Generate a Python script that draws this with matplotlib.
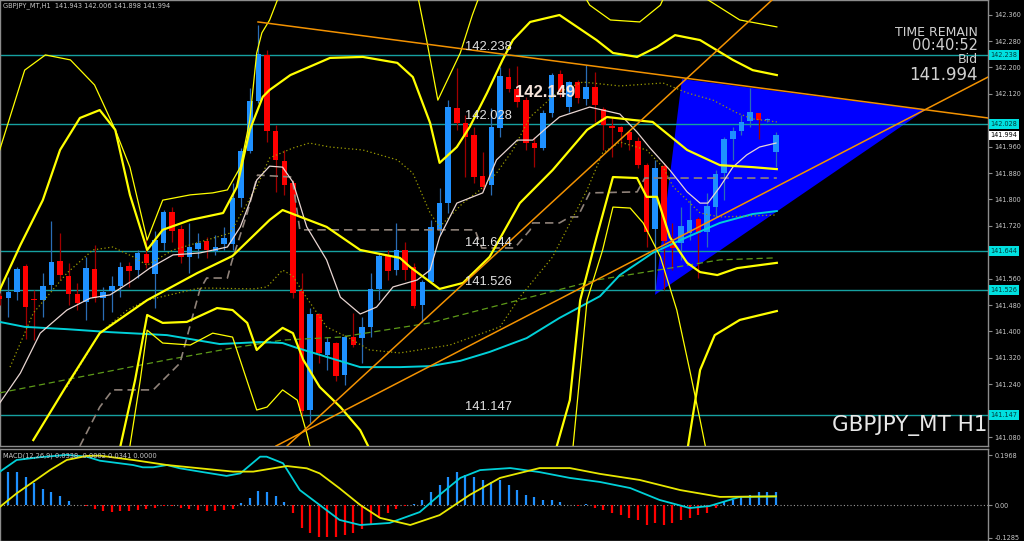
import matplotlib
matplotlib.use("Agg")
import matplotlib.pyplot as plt
import matplotlib.transforms as mtransforms
from matplotlib.patches import Polygon
import numpy as np

# ---------------- candles (GBPJPY_MT, H1) ----------------
opens = [141.507, 141.501, 141.520, 141.598, 141.498, 141.495, 141.541, 141.614, 141.568, 141.514,
         141.489, 141.589, 141.501, 141.523, 141.538, 141.598, 141.586, 141.635, 141.574, 141.668,
         141.762, 141.711, 141.626, 141.650, 141.674, 141.644, 141.665, 141.665, 141.804, 141.947,
         142.098, 142.238, 142.008, 141.917, 141.850, 141.523, 141.162, 141.453, 141.329, 141.365,
         141.268, 141.383, 141.380, 141.414, 141.529, 141.629, 141.586, 141.647, 141.595, 141.480,
         141.550, 141.708, 141.789, 142.077, 142.032, 141.995, 141.871, 141.844, 142.017, 142.171,
         142.135, 142.101, 141.971, 141.956, 142.062, 142.180, 142.080, 142.156, 142.104, 142.141,
         142.074, 142.023, 142.020, 142.004, 141.977, 141.904, 141.711, 141.901, 141.671, 141.668,
         141.698, 141.741, 141.701, 141.777, 141.880, 141.983, 142.008, 142.038, 142.062, 142.041,
         141.943]
highs = [141.517, 141.565, 141.595, 141.604, 141.526, 141.577, 141.735, 141.698, 141.608, 141.547,
         141.626, 141.662, 141.535, 141.568, 141.611, 141.611, 141.647, 141.686, 141.704, 141.768,
         141.777, 141.723, 141.729, 141.698, 141.686, 141.692, 141.717, 141.850, 141.956, 142.138,
         142.329, 142.253, 142.026, 141.950, 141.859, 141.577, 141.471, 141.456, 141.383, 141.368,
         141.389, 141.456, 141.444, 141.577, 141.638, 141.647, 141.729, 141.671, 141.608, 141.556,
         141.738, 141.835, 142.101, 142.198, 142.056, 142.020, 141.944, 142.077, 142.201, 142.198,
         142.204, 142.111, 141.989, 142.071, 142.183, 142.192, 142.159, 142.162, 142.208, 142.186,
         142.080, 142.050, 142.023, 142.011, 141.989, 141.911, 141.920, 141.911, 141.729, 141.777,
         141.798, 141.747, 141.820, 141.889, 141.989, 142.020, 142.056, 142.138, 142.062, 142.047,
         142.006]
lows = [141.480, 141.444, 141.495, 141.377, 141.374, 141.444, 141.526, 141.556, 141.480, 141.465,
        141.435, 141.489, 141.435, 141.459, 141.504, 141.535, 141.562, 141.592, 141.471, 141.647,
        141.671, 141.608, 141.577, 141.623, 141.623, 141.632, 141.647, 141.647, 141.777, 141.941,
        142.092, 141.974, 141.823, 141.814, 141.501, 141.144, 141.123, 141.304, 141.283, 141.250,
        141.238, 141.353, 141.304, 141.383, 141.495, 141.556, 141.571, 141.556, 141.471, 141.429,
        141.547, 141.692, 141.759, 142.011, 141.868, 141.850, 141.829, 141.814, 141.989, 142.126,
        142.080, 141.950, 141.898, 141.950, 142.050, 142.111, 142.065, 142.092, 142.086, 142.035,
        141.950, 141.929, 141.959, 141.950, 141.895, 141.656, 141.526, 141.526, 141.586, 141.617,
        141.677, 141.562, 141.656, 141.747, 141.798, 141.920, 141.995, 142.020, 141.983, 142.035,
        141.898]
closes = [141.498, 141.520, 141.589, 141.474, 141.494, 141.538, 141.611, 141.571, 141.514, 141.486,
          141.592, 141.501, 141.520, 141.538, 141.595, 141.583, 141.638, 141.608, 141.677, 141.762,
          141.704, 141.626, 141.656, 141.668, 141.647, 141.656, 141.683, 141.804, 141.947, 142.098,
          142.241, 142.008, 141.920, 141.844, 141.517, 141.159, 141.453, 141.335, 141.368, 141.265,
          141.383, 141.359, 141.414, 141.529, 141.629, 141.583, 141.647, 141.586, 141.477, 141.550,
          141.717, 141.789, 142.080, 142.032, 141.989, 141.868, 141.838, 142.020, 142.174, 142.135,
          142.095, 141.971, 141.956, 142.062, 142.177, 142.126, 142.156, 142.108, 142.141, 142.086,
          142.026, 142.017, 142.004, 141.980, 141.904, 141.701, 141.895, 141.674, 141.653, 141.720,
          141.738, 141.698, 141.780, 141.877, 141.983, 142.008, 142.035, 142.065, 142.041, 142.041,
          141.994]

# ---------------- levels / labels ----------------
levels = [142.238, 142.028, 141.644, 141.526, 141.147]
level_labels = ["142.238", "142.028", "141.644", "141.526", "141.147"]
bid_price = 141.994
high_label = "142.149"
price_ticks = [142.360, 142.280, 142.200, 142.120, 142.040, 141.960, 141.880, 141.800,
               141.720, 141.640, 141.560, 141.480, 141.400, 141.320, 141.240, 141.160, 141.080]
hidden_ticks = [142.040, 141.640, 141.160]   # covered by the level boxes
header = "GBPJPY_MT,H1  141.943 142.006 141.898 141.994"

# ---------------- indicator lines (bar index, price) ----------------
white_x = [0.0, 2.4, 4.7, 7.8, 10.5, 12.8, 15.5, 17.4, 20.1, 23.2, 26.4, 27.9, 29.0, 29.8, 31.3, 32.8,
           34.0, 35.6, 37.9, 39.5, 41.8, 43.7, 45.6, 48.4, 49.9, 51.0, 53.0, 56.0, 57.6, 60.0, 61.8,
           63.4, 64.9, 68.4, 71.9, 73.9, 75.4, 77.7, 79.7, 81.2, 82.1, 83.5, 85.0, 86.6, 88.1, 90.0]
white_y = [141.183, 141.274, 141.395, 141.465, 141.501, 141.511, 141.556, 141.592, 141.632, 141.638,
           141.656, 141.717, 141.792, 141.859, 141.901, 141.898, 141.853, 141.717, 141.617, 141.504,
           141.453, 141.474, 141.535, 141.556, 141.586, 141.686, 141.789, 141.820, 141.920, 141.980,
           141.980, 142.017, 142.050, 142.080, 142.059, 142.004, 141.956, 141.889, 141.823, 141.789,
           141.789, 141.838, 141.898, 141.935, 141.959, 141.971]

cyan_x = [0.0, 2.9, 7.8, 12.8, 19.4, 25.5, 30.2, 32.8, 34.5, 37.9, 41.8, 46.4, 49.9, 53.4, 56.8,
          61.1, 64.9, 69.6, 71.9, 75.7, 79.7, 83.5, 87.3, 90.1]
cyan_y = [141.429, 141.414, 141.407, 141.398, 141.389, 141.362, 141.368, 141.365, 141.350, 141.323,
          141.292, 141.292, 141.295, 141.311, 141.338, 141.380, 141.441, 141.507, 141.571, 141.638,
          141.686, 141.729, 141.756, 141.765]

green_x = [0.0, 11.6, 19.4, 27.0, 32.8, 39.5, 49.9, 61.5, 69.2, 77.7, 83.5, 89.9]
green_y = [141.214, 141.274, 141.314, 141.350, 141.374, 141.383, 141.426, 141.504, 141.556, 141.592,
           141.617, 141.623]

kijun_x = [9.3, 11.6, 13.1, 17.8, 20.9, 23.2, 24.0, 26.4, 26.9, 28.7, 29.9, 33.9, 34.8, 55.1, 55.9,
           59.7, 61.5, 61.8, 64.9, 66.1, 67.0, 68.4, 73.9, 74.8, 90.1]
kijun_y = [141.053, 141.171, 141.223, 141.223, 141.304, 141.526, 141.562, 141.562, 141.611, 141.759,
           141.874, 141.868, 141.708, 141.708, 141.653, 141.653, 141.708, 141.729, 141.729, 141.747,
           141.747, 141.820, 141.823, 141.865, 141.865]

fast_dot_x = [1.2, 3.9, 7.8, 10.8, 13.1, 15.5, 17.1, 20.1, 26.7, 29.8, 31.3, 34.0, 35.9, 38.3, 42.1,
              46.1, 47.9, 49.9, 51.0, 53.7, 55.7, 57.6, 59.5, 61.5, 64.6, 67.6, 71.9, 76.9, 79.7,
              82.7, 85.5, 87.3, 90.1]
fast_dot_y = [141.292, 141.456, 141.577, 141.647, 141.656, 141.626, 141.601, 141.647, 141.698, 141.838,
              141.926, 141.956, 141.971, 141.959, 141.950, 141.920, 141.880, 141.759, 141.717, 141.789,
              141.829, 141.880, 141.950, 142.050, 142.123, 142.156, 142.144, 142.153, 142.123, 142.101,
              142.062, 142.044, 142.035]

slow_dot_x = [7.8, 11.6, 14.8, 17.1, 23.2, 29.4, 31.0, 32.8, 34.0, 35.2, 37.9, 40.3, 42.9, 46.4, 52.2,
              58.0, 60.3, 64.1, 68.1, 69.9, 71.9, 75.0, 76.9, 78.1, 79.7, 81.2, 83.5, 90.1]
slow_dot_y = [141.232, 141.395, 141.465, 141.495, 141.532, 141.529, 141.535, 141.586, 141.568, 141.517,
              141.414, 141.383, 141.344, 141.335, 141.359, 141.414, 141.504, 141.626, 141.829, 141.941,
              141.974, 141.950, 141.898, 141.838, 141.798, 141.759, 141.747, 141.753]

band_mid_x = [3.9, 7.8, 11.6, 17.1, 22.9, 27.0, 31.3, 32.8, 35.2, 37.9, 41.8, 46.4, 47.6, 51.0, 53.7,
              56.8, 60.3, 64.1, 68.1, 70.4, 73.4, 75.7, 79.7, 83.5, 87.3, 90.1]
band_mid_y = [141.071, 141.238, 141.395, 141.495, 141.577, 141.629, 141.738, 141.768, 141.744, 141.717,
              141.647, 141.623, 141.595, 141.529, 141.547, 141.626, 141.789, 141.889, 142.011, 142.050,
              142.041, 142.035, 141.950, 141.904, 141.898, 141.892]

band_up_x = [0.0, 2.4, 5.0, 7.0, 9.3, 11.6, 13.4, 15.1, 17.1, 18.9, 22.1, 25.9, 27.5, 29.0, 30.5, 31.3,
             33.7, 38.3, 42.1, 46.1, 47.9, 49.9, 51.0, 53.0, 54.5, 56.5, 58.3, 59.5, 61.5, 64.9, 69.2,
             71.1, 73.9, 76.2, 78.3, 81.2, 85.0, 87.3, 90.1]
band_up_y = [141.526, 141.662, 141.798, 141.950, 142.047, 142.071, 142.011, 141.814, 141.647, 141.708,
             141.738, 141.759, 141.838, 142.011, 142.111, 142.132, 142.177, 142.229, 142.232, 142.214,
             142.171, 142.032, 141.911, 141.959, 142.020, 142.123, 142.223, 142.283, 142.338, 142.359,
             142.283, 142.244, 142.232, 142.262, 142.298, 142.283, 142.223, 142.192, 142.177]

outer_up_x = [0.0, 2.9, 5.3, 8.2, 11.0, 13.4, 15.1, 17.1, 18.9, 22.1, 24.7, 26.4, 27.9, 29.0, 29.8,
              30.4, 31.3, 33.1, 48.1, 49.5, 50.8, 53.4, 54.8, 56.3, 66.7, 68.4, 70.8, 74.2, 76.6,
              77.9, 81.2, 85.8, 90.1]
outer_up_y = [141.950, 142.192, 142.238, 142.223, 142.147, 142.011, 141.898, 141.677, 141.798, 141.814,
              141.820, 141.829, 141.898, 142.041, 142.244, 142.305, 142.344, 142.465, 142.465, 142.283,
              142.101, 142.244, 142.359, 142.465, 142.465, 142.389, 142.344, 142.338, 142.389, 142.465,
              142.420, 142.344, 142.323]

band_low_x = [14.0, 15.7, 17.1, 18.9, 21.7, 25.2, 27.0, 28.7, 29.8, 31.0, 32.8, 34.0, 35.2, 37.1, 39.5,
              41.8, 44.1, 63.8, 66.1, 67.3, 69.2, 71.1, 73.9, 75.0, 76.2, 77.7, 79.7, 81.2, 83.2,
              85.5, 90.1]
band_low_y = [141.053, 141.253, 141.450, 141.426, 141.429, 141.471, 141.465, 141.426, 141.344, 141.374,
              141.411, 141.395, 141.314, 141.232, 141.171, 141.101, 140.980, 140.980, 141.192, 141.495,
              141.686, 141.868, 141.865, 141.808, 141.808, 141.686, 141.608, 141.580, 141.571, 141.592,
              141.608]

band_low2_x = [79.6, 81.2, 82.9, 85.8, 90.1]
band_low2_y = [141.020, 141.283, 141.389, 141.435, 141.462]

outer_low_x = [15.1, 16.3, 17.1, 18.9, 22.1, 24.7, 27.0, 29.8, 31.0, 32.8, 34.5, 35.6, 36.9, 66.1, 68.1,
               69.9, 71.1, 73.1, 74.6, 76.6, 78.5, 80.0, 81.2, 82.6]
outer_low_y = [141.053, 141.253, 141.404, 141.365, 141.359, 141.395, 141.383, 141.162, 141.171, 141.223,
               141.192, 141.092, 140.950, 140.950, 141.495, 141.647, 141.777, 141.774, 141.729, 141.626,
               141.465, 141.283, 141.132, 140.950]

# trend lines (bar index, price)
trend_down = ([29.95, 114.58], [142.338, 142.047])
trend_steep = ([33.31, 89.54], [141.053, 142.4045])
trend_shallow = ([32.03, 114.58], [141.053, 142.171])
triangle_x = [79.1, 75.97, 107.3]
triangle_y = [142.165, 141.511, 142.071]

# ---------------- MACD ----------------
macd_hist = [0.0, 0.132, 0.132, 0.111, 0.087, 0.063, 0.051, 0.036, 0.017, 0.0,
             -0.004, -0.017, -0.024, -0.026, -0.024, -0.024, -0.020, -0.017, -0.013, -0.004,
             -0.004, -0.013, -0.017, -0.021, -0.024, -0.024, -0.021, -0.016, 0.007, 0.026,
             0.055, 0.050, 0.036, 0.013, -0.033, -0.092, -0.109, -0.125, -0.125, -0.125,
             -0.120, -0.110, -0.095, -0.075, -0.050, -0.030, -0.015, -0.005, 0.005, 0.020,
             0.050, 0.080, 0.110, 0.130, 0.120, 0.110, 0.100, 0.090, 0.100, 0.080,
             0.060, 0.040, 0.030, 0.020, 0.020, 0.010, 0.0, -0.005, 0.005, -0.010,
             -0.020, -0.030, -0.040, -0.050, -0.060, -0.080, -0.070, -0.080, -0.070, -0.060,
             -0.050, -0.040, -0.030, -0.010, 0.010, 0.020, 0.030, 0.040, 0.050, 0.050,
             0.050]
macd_x = [0.04, 1.97, 4.68, 7.77, 10.09, 11.63, 15.46, 16.6, 17.8, 19.4, 20.9, 23.2, 26.3, 27.9, 30.2,
          30.95, 32.85, 34.8, 37.1, 39.4, 41.8, 45.2, 48.7, 51.0, 53.4, 55.7, 59.2, 62.6, 66.1, 69.6,
          73.1, 76.5, 80.0, 82.3, 85.8, 90.0]
macd_y = [0.132, 0.178, 0.189, 0.198, 0.191, 0.175, 0.158, 0.149, 0.149, 0.158, 0.145, 0.132, 0.115,
          0.125, 0.191, 0.191, 0.165, 0.059, 0.0, -0.059, -0.079, -0.071, -0.028, 0.040, 0.107, 0.138,
          0.146, 0.130, 0.107, 0.091, 0.067, 0.020, -0.012, -0.004, 0.032, 0.0338]
signal_x = [0.04, 1.97, 3.9, 5.83, 7.77, 10.09, 11.63, 15.46, 19.4, 23.2, 27.05, 29.4, 33.3, 35.6, 37.1,
            39.4, 41.8, 44.1, 47.6, 51.0, 54.5, 58.0, 62.6, 66.1, 69.6, 74.2, 78.9, 83.5, 90.0]
signal_y = [-0.007, 0.046, 0.092, 0.138, 0.178, 0.194, 0.195, 0.178, 0.158, 0.145, 0.132, 0.132, 0.154,
            0.145, 0.125, 0.066, 0.0, -0.051, -0.079, -0.040, 0.040, 0.107, 0.146, 0.146, 0.123, 0.099,
            0.059, 0.032, 0.0341]
macd_ticks = [0.1968, 0.0, -0.1285]
macd_tick_labels = ["0.1968", "0.00", "-0.1285"]
macd_header = "MACD(12,26,9) 0.0338 -0.0002 0.0341 0.0000"

# ---------------- figure ----------------
W, H = 1024, 541
fig = plt.figure(figsize=(W / 100, H / 100), dpi=100, facecolor="black")
ax = fig.add_axes([0, 1 - 446 / H, 988 / W, 446 / H])
mx = fig.add_axes([0, 0, 988 / W, (541 - 449) / H])

frame_col = "#8c8c8c"
label_col = "#c8c8c8"
for a in (ax, mx):
    a.set_facecolor("black")
    for s in a.spines.values():
        s.set_color(frame_col)
        s.set_linewidth(1.0)
    a.set_xticks([])
    a.yaxis.tick_right()
    a.tick_params(axis="y", colors=frame_col, labelcolor=label_col, labelsize=4.7,
                  length=3, width=0.8, direction="out", pad=1.5)
    a.set_xlim(0.038, 114.58)

ax.set_ylim(142.4045 - 446 / 330, 142.4045)
ax.set_yticks(price_ticks)
ax.set_yticklabels(["" if t in hidden_ticks else f"{t:.3f}" for t in price_ticks])

# triangle (background object)
ax.add_patch(Polygon(np.column_stack([triangle_x, triangle_y]), closed=True,
                     facecolor="#0000ff", edgecolor="none", zorder=1))

# horizontal levels
for lv, lab in zip(levels, level_labels):
    ax.axhline(lv, color="#16a0a0", lw=1.0, zorder=2)
    ax.text(54.0, lv + 0.006, lab, color="#e2e2e2", fontsize=9.3, family="Liberation Sans",
            ha="left", va="bottom", zorder=8)

# candles
idx = np.arange(len(opens))
o = np.array(opens); c = np.array(closes); h = np.array(highs); l = np.array(lows)
up = c >= o
wick_cols = np.where(up, "#2a6db5", "#a00000")
ax.vlines(idx, l, h, colors=wick_cols, lw=0.9, zorder=3)
body_bot = np.minimum(o, c)
body_h = np.maximum(np.abs(c - o), 0.003)
ax.bar(idx, body_h, bottom=body_bot, width=0.64,
       color=np.where(up, "#1e90ff", "#ff0000"), linewidth=0, zorder=3.5)

# indicators
ax.plot(green_x, green_y, color="#5d9a18", lw=0.9, ls=(0, (5, 3)), zorder=4)
ax.plot(cyan_x, cyan_y, color="#00d0d8", lw=1.4, zorder=4)
ax.plot(kijun_x, kijun_y, color="#8f8279", lw=1.2, ls=(0, (5, 3)), zorder=4)
ax.plot(slow_dot_x, slow_dot_y, color="#9c9c00", lw=0.9, ls=(0, (1, 2)), zorder=4)
ax.plot(fast_dot_x, fast_dot_y, color="#9c9c00", lw=0.9, ls=(0, (1, 2)), zorder=4)
ax.plot(white_x, white_y, color="#e9d6d2", lw=0.9, zorder=4.5)
for xs, ys in ((band_mid_x, band_mid_y), (band_up_x, band_up_y), (band_low_x, band_low_y),
               (band_low2_x, band_low2_y)):
    ax.plot(xs, ys, color="#ffff00", lw=1.6, zorder=4.6)
for xs, ys in ((outer_up_x, outer_up_y), (outer_low_x, outer_low_y)):
    ax.plot(xs, ys, color="#ffff00", lw=0.9, zorder=4.6)

for xs, ys in (trend_down, trend_steep, trend_shallow):
    ax.plot(xs, ys, color="#f39200", lw=1.1, zorder=5)

# labels inside chart
ax.text(59.74, 142.123, high_label, color="#f6e4da", fontsize=12, fontweight="bold",
        family="Liberation Sans", ha="left", va="center", zorder=9)

# right-side price boxes
btr = mtransforms.blended_transform_factory(ax.transAxes, ax.transData)
for lv, lab in zip(levels, level_labels):
    ax.text(1.0025, lv, lab, transform=btr, fontsize=4.7, color="#003c3c", ha="left", va="center",
            bbox=dict(boxstyle="square,pad=0.28", fc="#00e0e0", ec="none"), clip_on=False, zorder=10)
ax.text(1.0025, bid_price, f"{bid_price:.3f}", transform=btr, fontsize=4.7, color="black",
        ha="left", va="center", bbox=dict(boxstyle="square,pad=0.28", fc="white", ec="none"),
        clip_on=False, zorder=10)

# header texts
fig.text(3 / W, 1 - 6 / H, header, color=label_col, fontsize=4.8, ha="left", va="center")
rx = 978 / W
fig.text(rx, 1 - 32.5 / H, "TIME REMAIN", color="#d0d0d0", fontsize=9, ha="right", va="center")
fig.text(rx, 1 - 46 / H, "00:40:52", color="#d0d0d0", fontsize=10.5, ha="right", va="center")
fig.text(rx, 1 - 59.5 / H, "Bid", color="#d0d0d0", fontsize=9, ha="right", va="center")
fig.text(rx, 1 - 74.5 / H, "141.994", color="#d0d0d0", fontsize=12, ha="right", va="center")
fig.text(987 / W, 1 - 425 / H, "GBPJPY_MT H1", color="#e8e8e8", fontsize=15.5, ha="right", va="center")

# ---------------- MACD panel ----------------
mx.set_ylim(-36 / 253, 56 / 253)
mx.set_yticks(macd_ticks)
mx.set_yticklabels(macd_tick_labels)
mx.axhline(0, color="#9a9a9a", lw=0.8, ls=(0, (1, 2)), zorder=1)
hist = np.array(macd_hist)
mx.vlines(idx, 0, hist, colors=np.where(hist >= 0, "#1e90ff", "#ff0000"), lw=1.6, zorder=2)
mx.plot(macd_x, macd_y, color="#00d0d8", lw=1.3, zorder=3)
mx.plot(signal_x, signal_y, color="#e8e800", lw=1.3, zorder=3)
mx.text(0.003, 0.93, macd_header, transform=mx.transAxes, color=label_col, fontsize=4.8,
        ha="left", va="center")

fig.savefig("out.png", dpi=100, facecolor="black")
